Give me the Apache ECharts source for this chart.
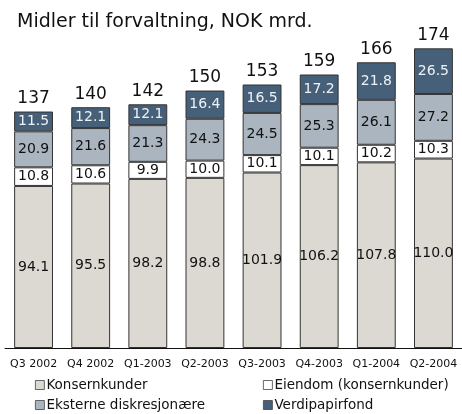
<!DOCTYPE html>
<html>
<head>
<meta charset="utf-8">
<script src="https://cdn.jsdelivr.net/npm/echarts@6/dist/echarts.min.js"></script>
<style>
  html, body { margin: 0; padding: 0; background: #fff; }
  #chart-container { width: 462px; height: 414px; }
</style>
</head>
<body>
<div id="chart-container"></div>
<script>
var categories = ['Q3 2002', 'Q4 2002', 'Q1-2003', 'Q2-2003', 'Q3-2003', 'Q4-2003', 'Q1-2004', 'Q2-2004'];
var konsernkunder = [94.1, 95.5, 98.2, 98.8, 101.9, 106.2, 107.8, 110.0];
var eiendom = [10.8, 10.6, 9.9, 10.0, 10.1, 10.1, 10.2, 10.3];
var eksterne = [20.9, 21.6, 21.3, 24.3, 24.5, 25.3, 26.1, 27.2];
var verdipapirfond = [11.5, 12.1, 12.1, 16.4, 16.5, 17.2, 21.8, 26.5];
var totals = [137, 140, 142, 150, 153, 159, 166, 174];

var dom = document.getElementById('chart-container');
var myChart = echarts.init(dom, null, { renderer: 'canvas' });

var font = 'DejaVu Sans, Verdana, sans-serif';

function segment(name, data, color, textColor) {
  return {
    name: name,
    type: 'bar',
    stack: 'total',
    barCategoryGap: '32%',
    data: data,
    itemStyle: { color: color, borderColor: '#333', borderWidth: 1 },
    label: {
      show: true,
      position: 'inside',
      fontFamily: font,
      fontSize: 14,
      color: textColor,
      formatter: function (p) { return p.value.toFixed(1); }
    }
  };
}

var legendText = { fontFamily: font, fontSize: 13.5, color: '#111', padding: [0, 0, 0, -3] };

var option = {
  animation: false,
  title: {
    text: 'Midler til forvaltning, NOK mrd.',
    left: 12,
    top: 8,
    textStyle: { fontFamily: font, fontSize: 19, fontWeight: 'normal', color: '#111' }
  },
  grid: { left: 5, right: -3, top: 38, bottom: 66 },
  legend: [
    {
      data: ['Konsernkunder', 'Eksterne diskresjonære'],
      orient: 'vertical',
      left: 35, top: 378, height: 60, padding: 0,
      itemWidth: 9, itemHeight: 9, itemGap: 6,
      icon: 'rect',
      itemStyle: { borderWidth: 0.8, borderColor: '#444' },
      textStyle: legendText
    },
    {
      data: ['Eiendom (konsernkunder)', 'Verdipapirfond'],
      orient: 'vertical',
      left: 263, top: 378, height: 60, padding: 0,
      itemWidth: 9, itemHeight: 9, itemGap: 6,
      icon: 'rect',
      itemStyle: { borderWidth: 0.8, borderColor: '#444' },
      textStyle: legendText
    }
  ],
  xAxis: {
    type: 'category',
    data: categories,
    axisLine: { lineStyle: { color: '#111', width: 1 } },
    axisTick: { show: false },
    axisLabel: { fontFamily: font, fontSize: 11, color: '#111', margin: 11, interval: 0 }
  },
  yAxis: {
    type: 'value',
    min: 0,
    max: 180,
    show: false,
    splitLine: { show: false }
  },
  series: [
    segment('Konsernkunder', konsernkunder, '#dcd9d3', '#111'),
    segment('Eiendom (konsernkunder)', eiendom, '#ffffff', '#111'),
    segment('Eksterne diskresjonære', eksterne, '#aab5bf', '#111'),
    segment('Verdipapirfond', verdipapirfond, '#466079', '#eef2f5'),
    {
      name: 'Sum',
      type: 'bar',
      stack: 'total',
      data: totals.map(function () { return 0; }),
      itemStyle: { color: 'transparent' },
      label: {
        show: true,
        position: 'top',
        distance: 4,
        fontFamily: font,
        fontSize: 17,
        color: '#111',
        formatter: function (p) { return totals[p.dataIndex]; }
      }
    }
  ]
};

myChart.setOption(option);
window.addEventListener('resize', myChart.resize);
</script>
</body>
</html>
